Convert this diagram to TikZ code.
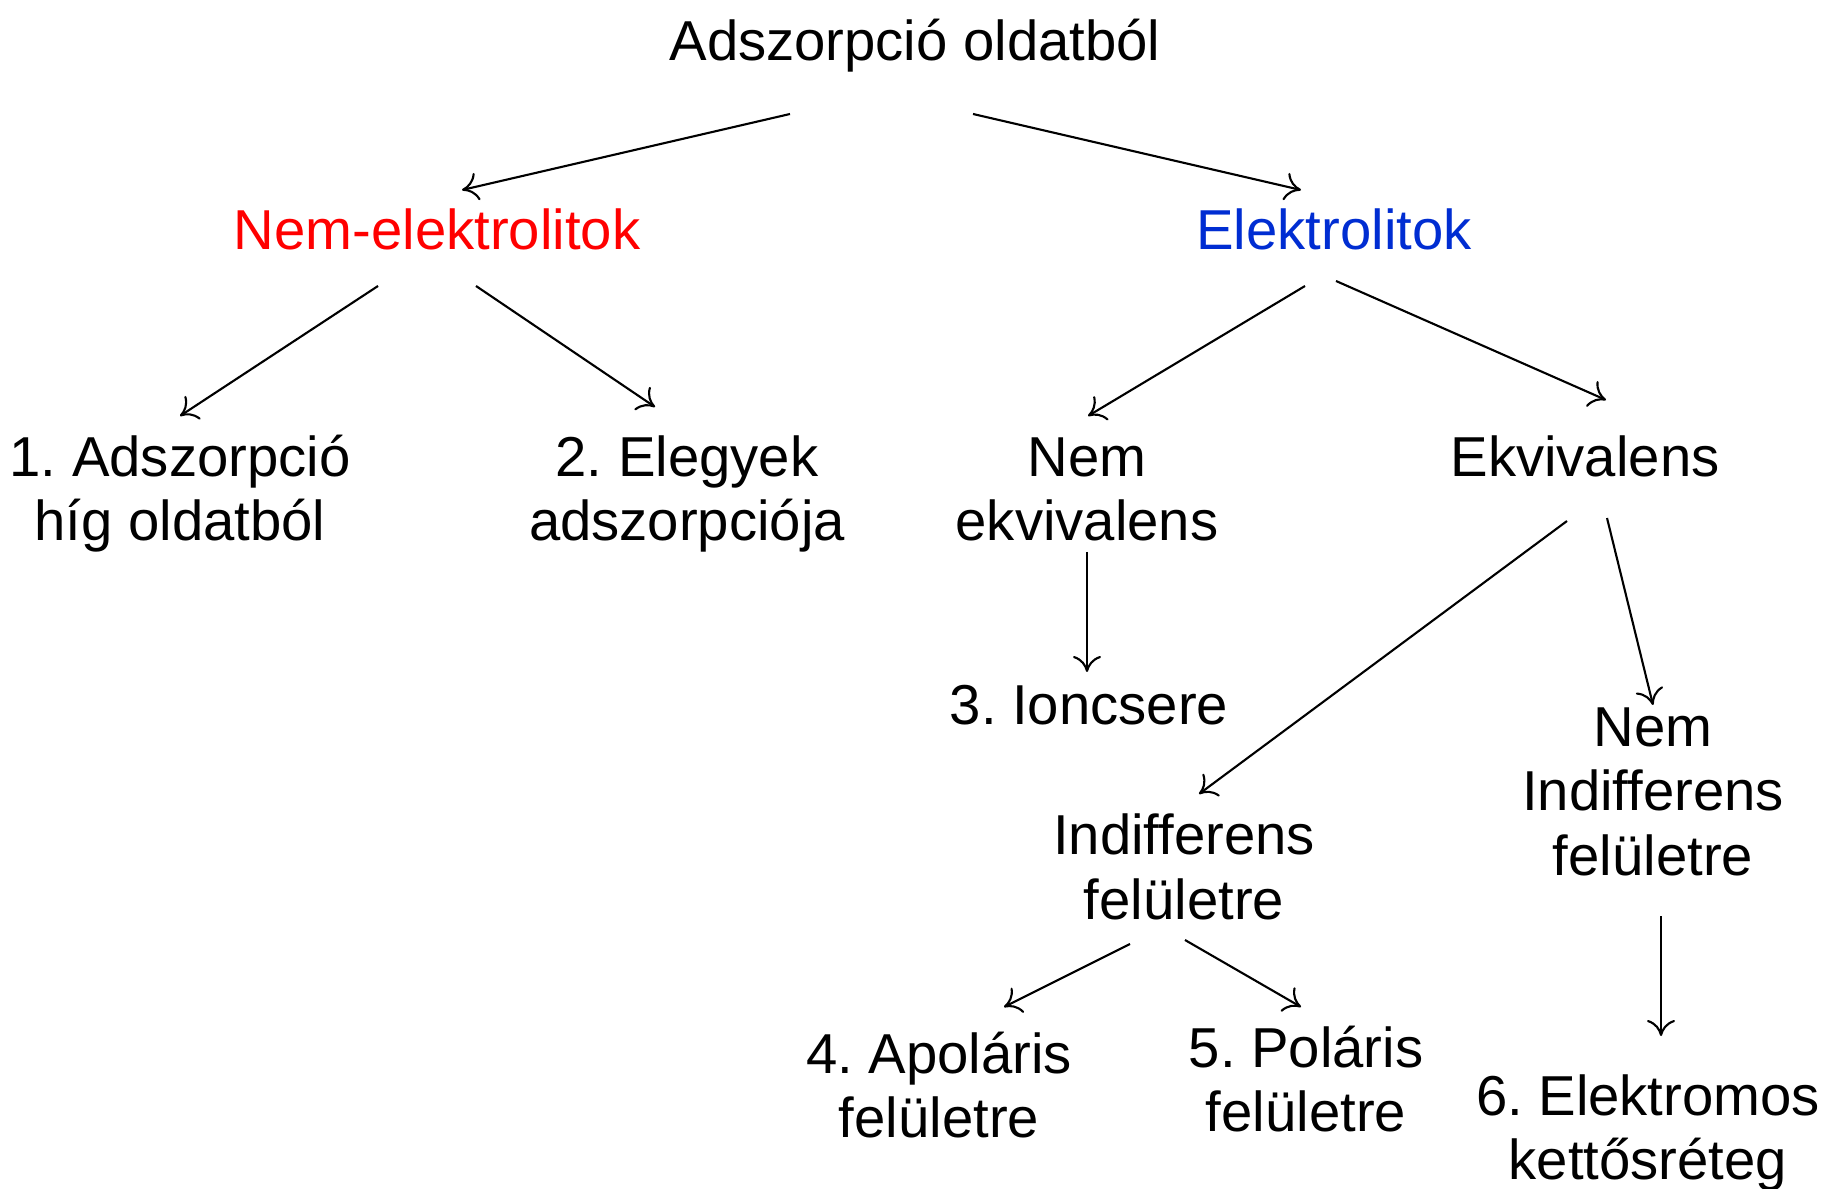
\documentclass[tikz,border=0pt]{standalone}
\usepackage{fontspec}
\setmainfont{Liberation Sans}
\usetikzlibrary{arrows.meta,calc}
\definecolor{nemred}{RGB}{255,0,0}
\definecolor{elekblue}{RGB}{0,45,210}
\frenchspacing

\begin{document}
\begin{tikzpicture}[x=0.01cm,y=-0.01cm,
  lbl/.style={anchor=base,align=center,inner sep=0pt,font=\fontsize{16}{18.2}\selectfont},
  arr/.style={-{To[length=1.6mm,width=2.8mm]},line width=0.6pt}]
\useasboundingbox (0,0) rectangle (1825,1189);
% texts (base = last line)
\node[lbl] (top) at (915,60.5) {Adszorpció oldatból};
\node[lbl,text=nemred] (nemel) at (437,250) {Nem-elektrolitok};
\node[lbl,text=elekblue] (elek) at (1334,250) {Elektrolitok};
\node[lbl] (hig) at (180,541) {1. Adszorpció\\híg oldatból};
\node[lbl] (elegy) at (687,541) {2. Elegyek\\adszorpciója};
\node[lbl] (nemekv) at (1087,541) {Nem\\ekvivalens};
\node[lbl] (ekv) at (1585,477) {Ekvivalens};
\node[lbl] (ion) at (1089,725) {3. Ioncsere};
\node[lbl] (nemindiff) at (1653,875) {Nem\\Indifferens\\felületre};
\node[lbl] (indiff) at (1184,919) {Indifferens\\felületre};
\node[lbl] (apol) at (939,1137) {4. Apoláris\\felületre};
\node[lbl] (pol) at (1306,1131) {5. Poláris\\felületre};
\node[lbl] (ketto) at (1648,1179) {6. Elektromos\\kettősréteg};
% arrows
\draw[arr] ($(top.base)+(-125,53.5)$) -- ($(nemel.base)+(25,-60)$);
\draw[arr] ($(top.base)+(58,53.5)$) -- ($(elek.base)+(-33,-60)$);
\draw[arr] ($(nemel.base)+(-59,36)$) -- ($(hig.base)+(0,-125)$);
\draw[arr] ($(nemel.base)+(39,36)$) -- ($(elegy.base)+(-32,-134)$);
\draw[arr] ($(elek.base)+(-29,36)$) -- ($(nemekv.base)+(1,-125)$);
\draw[arr] ($(elek.base)+(2,31)$) -- ($(ekv.base)+(21,-77)$);
\draw[arr] ($(nemekv.base)+(0,11)$) -- ($(ion.base)+(-2,-53)$);
\draw[arr] ($(ekv.base)+(-18,44)$) -- ($(indiff.base)+(15,-125)$);
\draw[arr] ($(ekv.base)+(22,41)$) -- ($(nemindiff.base)+(0,-170)$);
\draw[arr] ($(indiff.base)+(-54,25)$) -- ($(apol.base)+(65,-130)$);
\draw[arr] ($(indiff.base)+(1,21)$) -- ($(pol.base)+(-5,-124)$);
\draw[arr] ($(nemindiff.base)+(8,41)$) -- ($(ketto.base)+(13,-143)$);
\end{tikzpicture}
\end{document}
